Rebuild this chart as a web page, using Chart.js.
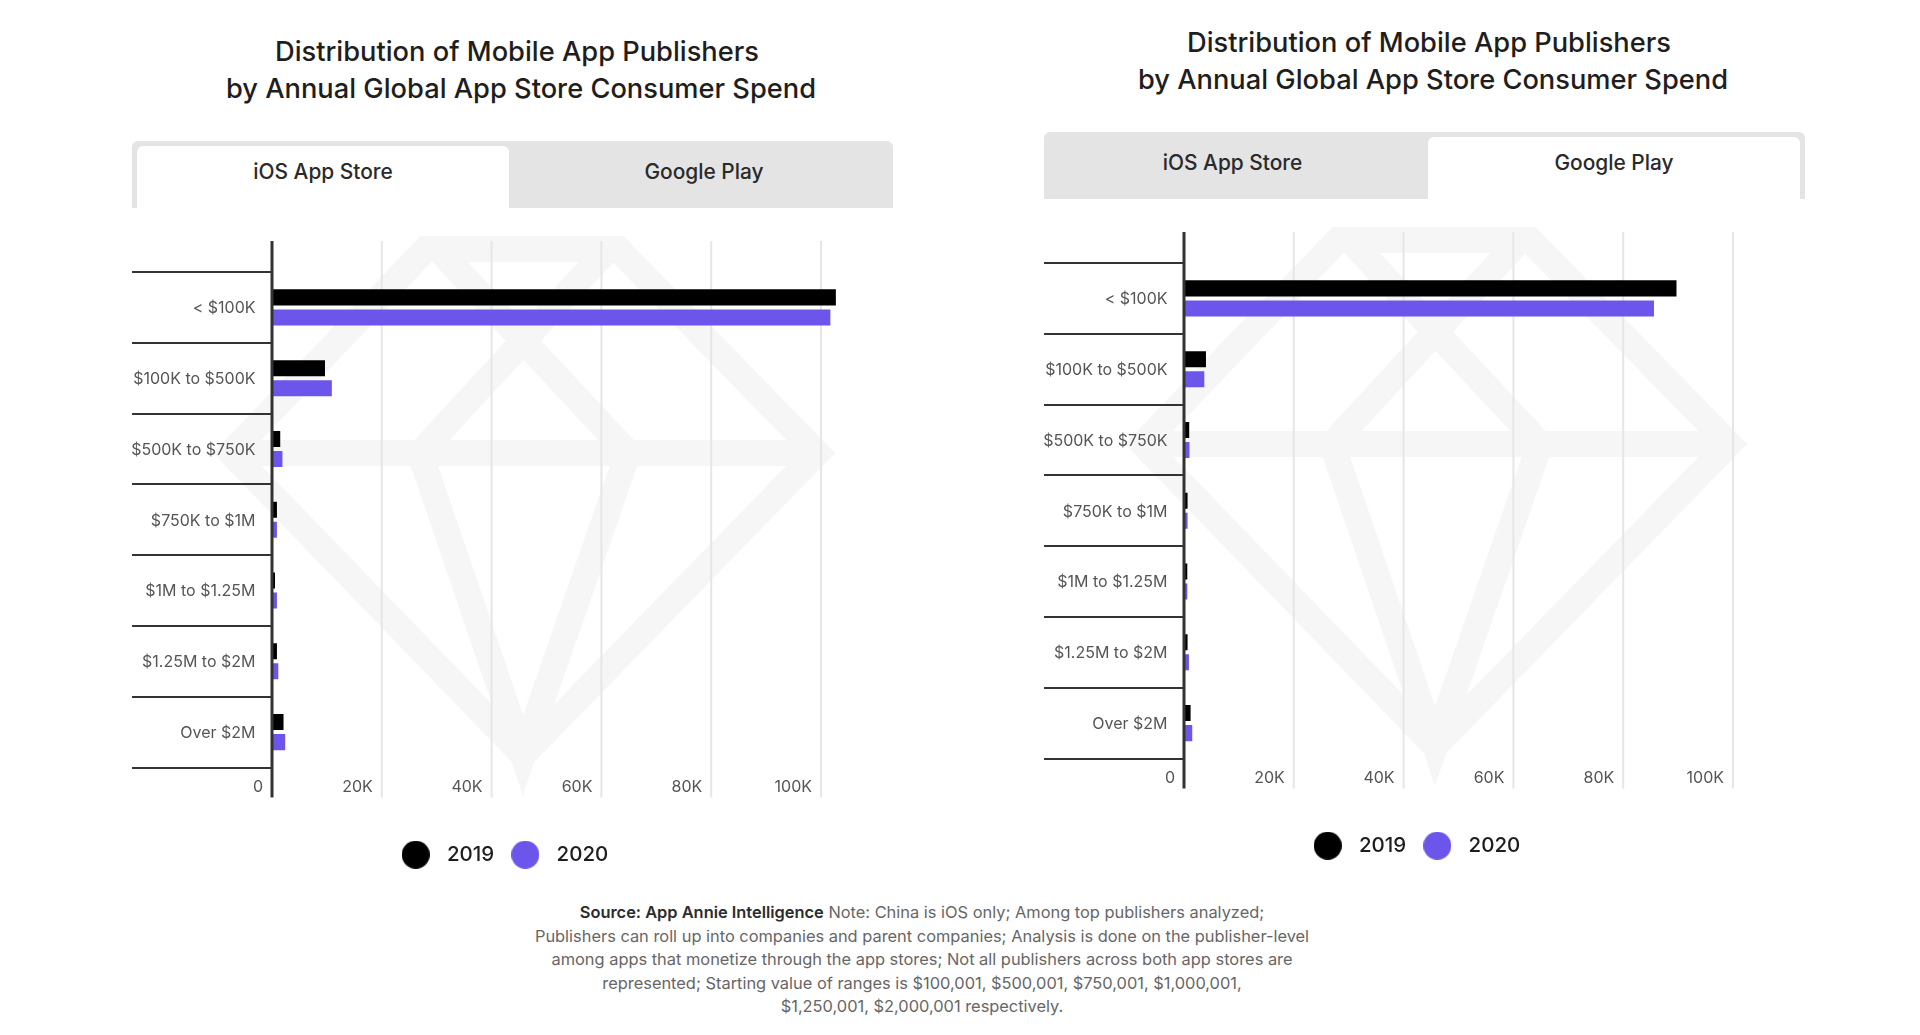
<!DOCTYPE html>
<html>
<head>
<meta charset="utf-8">
<title>Distribution of Mobile App Publishers</title>
<script src="https://cdn.jsdelivr.net/npm/chart.js@4"></script>
<style>
  html, body { margin: 0; padding: 0; background: #fff; }
  body { width: 1920px; height: 1035px; overflow: hidden; position: relative; font-family: Inter, Lato, sans-serif; }
  .panel { position: absolute; left: 0; top: 0; width: 960px; height: 890px; }
  .panel.right { left: 912px; top: -9px; }
  .diamond { position: absolute; left: 0; top: 0; }
  .title { position: absolute; left: 132px; width: 778px; top: 34px; text-align: center; font-size: 27.25px; font-weight: 500; line-height: 36.5px; color: #1e1e1e; }
  .title span { position: relative; left: -4px; }
  .tabs { position: absolute; left: 132px; top: 141px; width: 761px; height: 67px; background: #e4e4e4; border-radius: 6px 6px 0 0; }
  .tab { position: absolute; top: 0; height: 67px; line-height: 61px; text-align: center; font-size: 20.9px; font-weight: 500; color: #2a2a2a; }
  .tab.first { left: 0; width: 377px; }
  .tab.second { left: 380px; width: 384px; }
  .tab.active { background: #fff; top: 5px; height: 62px; line-height: 51px; border-radius: 6px 6px 0 0; }
  .tab.first.active { left: 5px; width: 372px; }
  .tab.second.active { left: 384px; width: 372px; }
  .chart-box { position: absolute; left: 132px; top: 241px; width: 739px; height: 634px; }
  .source { position: absolute; left: 422px; width: 1000px; top: 901px; text-align: center; font-size: 16.4px; line-height: 23.6px; color: #666; }
  .source b { color: #2c2c2c; font-weight: 600; }
</style>
</head>
<body>
<svg width="0" height="0" style="position:absolute">
  <defs>
    <g id="diamondMark" fill="none" stroke="#f6f6f6" stroke-width="26" stroke-linejoin="miter" stroke-miterlimit="10">
      <polygon points="426,249 618,249 817,453 523,755 231,453"/>
      <polyline points="231,453 817,453"/>
      <polyline points="438,249 628,453 523,755 420,453 608,249"/>
    </g>
  </defs>
</svg>

<div class="panel" id="panelIos">
  <svg class="diamond" width="960" height="890"><use href="#diamondMark"/></svg>
  <div class="title"><span>Distribution of Mobile App Publishers</span><br>by Annual Global App Store Consumer Spend</div>
  <div class="tabs"><div class="tab first active">iOS App Store</div><div class="tab second">Google Play</div></div>
  <div class="chart-box"><canvas id="iosChart"></canvas></div>
</div>

<div class="panel right" id="panelPlay">
  <svg class="diamond" width="960" height="890"><use href="#diamondMark"/></svg>
  <div class="title"><span>Distribution of Mobile App Publishers</span><br>by Annual Global App Store Consumer Spend</div>
  <div class="tabs"><div class="tab first">iOS App Store</div><div class="tab second active">Google Play</div></div>
  <div class="chart-box"><canvas id="playChart"></canvas></div>
</div>

<div class="source"><b>Source: App Annie Intelligence</b> Note: China is iOS only; Among top publishers analyzed;<br>Publishers can roll up into companies and parent companies; Analysis is done on the publisher-level<br>among apps that monetize through the app stores; Not all publishers across both app stores are<br>represented; Starting value of ranges is $100,001, $500,001, $750,001, $1,000,001,<br>$1,250,001, $2,000,001 respectively.</div>

<script>
// values are in thousands of publishers
const categories = ['< $100K', '$100K to $500K', '$500K to $750K', '$750K to $1M', '$1M to $1.25M', '$1.25M to $2M', 'Over $2M'];
const seriesYears = ['2019', '2020'];
const ios2019 = [102.7, 9.65, 1.5, 0.9, 0.55, 0.9, 2.1];
const ios2020 = [101.7, 10.9, 1.9, 0.9, 0.9, 1.15, 2.4];
const play2019 = [89.7, 4.0, 0.95, 0.65, 0.6, 0.65, 1.2];
const play2020 = [85.6, 3.7, 1.0, 0.65, 0.6, 0.9, 1.5];

const BLACK = '#000000';
const PURPLE = '#6c55ea';
const AXIS_DARK = '#333333';
const GRID_LIGHT = '#e6e6ea';
const TICK_TEXT = '#555555';

// legend dot, wider box than a plain circle style would allow
function makeDot(color) {
  const c = document.createElement('canvas');
  c.width = 28;
  c.height = 28;
  const g = c.getContext('2d');
  g.fillStyle = color;
  g.beginPath();
  g.arc(14, 14, 14, 0, Math.PI * 2);
  g.fill();
  return c;
}

// gridlines and the value axis run past the category bands at both ends
const extendedAxis = {
  id: 'extendedAxis',
  beforeDatasetsDraw(chart) {
    const { ctx, chartArea, scales } = chart;
    ctx.save();
    ctx.strokeStyle = GRID_LIGHT;
    ctx.lineWidth = 2;
    scales.x.ticks.forEach(t => {
      if (t.value === 0) return;
      const px = scales.x.getPixelForValue(t.value);
      ctx.beginPath();
      ctx.moveTo(px, chartArea.top - 31);
      ctx.lineTo(px, chartArea.bottom + 30);
      ctx.stroke();
    });
    ctx.restore();
  },
  afterDatasetsDraw(chart) {
    const { ctx, chartArea, scales } = chart;
    const px = scales.x.getPixelForValue(0);
    ctx.save();
    ctx.strokeStyle = AXIS_DARK;
    ctx.lineWidth = 3;
    ctx.beginPath();
    ctx.moveTo(px, chartArea.top - 31);
    ctx.lineTo(px, chartArea.bottom + 30);
    ctx.stroke();
    ctx.restore();
  }
};

function makeChart(id, values2019, values2020) {
  const dots = [makeDot(BLACK), makeDot(PURPLE)];
  return new Chart(document.getElementById(id), {
    type: 'bar',
    data: {
      labels: categories,
      datasets: [
        { label: seriesYears[0], data: values2019, backgroundColor: BLACK },
        { label: seriesYears[1], data: values2020, backgroundColor: PURPLE }
      ]
    },
    options: {
      indexAxis: 'y',
      responsive: true,
      maintainAspectRatio: false,
      animation: false,
      layout: { padding: { top: 31 } },
      datasets: { bar: { categoryPercentage: 0.566, barPercentage: 0.8 } },
      plugins: {
        tooltip: { enabled: false },
        legend: {
          position: 'bottom',
          onClick: null,
          labels: {
            usePointStyle: true,
            pointStyleWidth: 42,
            padding: 10,
            color: '#1e1e1e',
            font: { family: 'Inter', size: 20.5, weight: '500' },
            generateLabels(chart) {
              const items = Chart.defaults.plugins.legend.labels.generateLabels(chart);
              items.forEach((item, i) => { item.pointStyle = dots[i]; });
              return items;
            }
          }
        }
      },
      scales: {
        x: {
          min: 0,
          max: 109.1,
          afterFit(s) { s.height = 67; },
          border: { display: false },
          grid: { display: false, drawTicks: false },
          ticks: {
            stepSize: 20,
            includeBounds: false,
            autoSkip: false,
            maxRotation: 0,
            align: 'end',
            labelOffset: -9,
            padding: 10,
            color: TICK_TEXT,
            font: { family: 'Inter', size: 16 },
            callback: v => (v === 0 ? '0' : v + 'K')
          }
        },
        y: {
          afterFit(s) { s.width = 140; },
          border: { display: false },
          grid: { drawOnChartArea: false, tickLength: 140, color: AXIS_DARK, lineWidth: 2 },
          ticks: {
            autoSkip: false,
            padding: -123.5,
            labelOffset: 1,
            color: TICK_TEXT,
            font: { family: 'Inter', size: 16 }
          }
        }
      }
    },
    plugins: [extendedAxis]
  });
}

makeChart('iosChart', ios2019, ios2020);
makeChart('playChart', play2019, play2020);
</script>
</body>
</html>
